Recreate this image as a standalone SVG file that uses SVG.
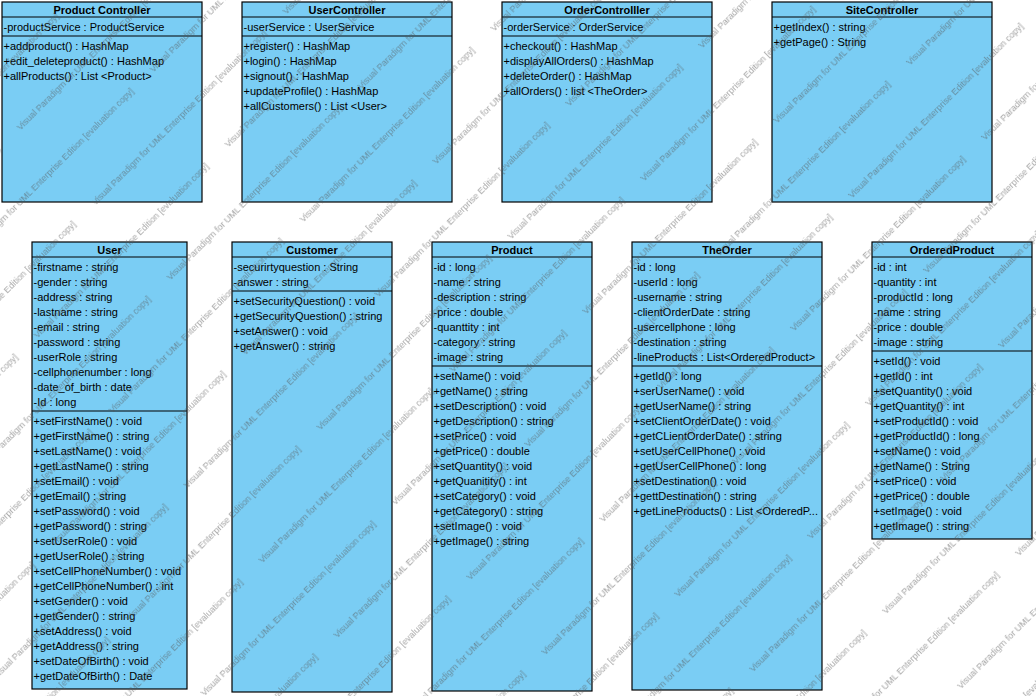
<svg xmlns="http://www.w3.org/2000/svg" width="1036" height="696" viewBox="0 0 1036 696">
<style>
.box{fill:#7acdf4;stroke:#000;stroke-width:1.2}
.ln{stroke:#000;stroke-width:1.2}
.t{font-family:"Liberation Sans",Arial,sans-serif;font-size:11px;fill:#000}
.h{font-weight:bold;text-anchor:middle}
.wm{font-family:"Liberation Sans",Arial,sans-serif;font-size:9px;fill:#555}
</style>
<defs>
<pattern id="wmp" patternUnits="userSpaceOnUse" x="0" y="0" width="270" height="106" patternTransform="rotate(-45)">
<text class="wm" x="192" y="1">Visual Paradigm for UML Enterprise Edition [evaluation copy]</text>
<text class="wm" x="-78" y="1">Visual Paradigm for UML Enterprise Edition [evaluation copy]</text>
<text class="wm" x="192" y="107">Visual Paradigm for UML Enterprise Edition [evaluation copy]</text>
<text class="wm" x="-78" y="107">Visual Paradigm for UML Enterprise Edition [evaluation copy]</text>
<text class="wm" x="57" y="54">Visual Paradigm for UML Enterprise Edition [evaluation copy]</text>
<text class="wm" x="-213" y="54">Visual Paradigm for UML Enterprise Edition [evaluation copy]</text>
</pattern>
</defs>
<rect width="1036" height="696" fill="#fff"/>
<g id="connectors"/>

<g id="ProductController">
<rect class="box" x="2" y="2" width="200" height="200"/>
<line class="ln" x1="2" y1="17" x2="202" y2="17"/>
<line class="ln" x1="2" y1="36" x2="202" y2="36"/>
<text class="t h" x="102" y="14">Product Controller</text>
<text class="t" x="3.5" y="31">-productService : ProductService</text>
<text class="t" x="3.5" y="50">+addproduct() : HashMap</text>
<text class="t" x="3.5" y="65">+edit_deleteproduct() : HashMap</text>
<text class="t" x="3.5" y="80">+allProducts() : List &lt;Product&gt;</text>
</g>

<g id="UserController">
<rect class="box" x="242" y="2" width="210" height="200"/>
<line class="ln" x1="242" y1="17" x2="452" y2="17"/>
<line class="ln" x1="242" y1="36" x2="452" y2="36"/>
<text class="t h" x="347" y="14">UserController</text>
<text class="t" x="243.5" y="31">-userService : UserService</text>
<text class="t" x="243.5" y="50">+register() : HashMap</text>
<text class="t" x="243.5" y="65">+login() : HashMap</text>
<text class="t" x="243.5" y="80">+signout() : HashMap</text>
<text class="t" x="243.5" y="95">+updateProfile() : HashMap</text>
<text class="t" x="243.5" y="110">+allCustomers() : List &lt;User&gt;</text>
</g>

<g id="OrderController">
<rect class="box" x="502" y="2" width="210" height="200"/>
<line class="ln" x1="502" y1="17" x2="712" y2="17"/>
<line class="ln" x1="502" y1="36" x2="712" y2="36"/>
<text class="t h" x="607" y="14">OrderControlller</text>
<text class="t" x="503.5" y="31">-orderService : OrderService</text>
<text class="t" x="503.5" y="50">+checkout() : HashMap</text>
<text class="t" x="503.5" y="65">+displayAllOrders() : HashMap</text>
<text class="t" x="503.5" y="80">+deleteOrder() : HashMap</text>
<text class="t" x="503.5" y="95">+allOrders() : list &lt;TheOrder&gt;</text>
</g>

<g id="SiteController">
<rect class="box" x="772" y="2" width="220" height="200"/>
<line class="ln" x1="772" y1="17" x2="992" y2="17"/>
<text class="t h" x="882" y="14">SiteController</text>
<text class="t" x="773.5" y="31">+getIndex() : string</text>
<text class="t" x="773.5" y="46">+getPage() : String</text>
</g>

<g id="User">
<rect class="box" x="32" y="242" width="155" height="447"/>
<line class="ln" x1="32" y1="257" x2="187" y2="257"/>
<line class="ln" x1="32" y1="411" x2="187" y2="411"/>
<text class="t h" x="109.5" y="254">User</text>
<text class="t" x="33.5" y="271">-firstname : string</text>
<text class="t" x="33.5" y="286">-gender : string</text>
<text class="t" x="33.5" y="301">-address : string</text>
<text class="t" x="33.5" y="316">-lastname : string</text>
<text class="t" x="33.5" y="331">-email : string</text>
<text class="t" x="33.5" y="346">-password : string</text>
<text class="t" x="33.5" y="361">-userRole : string</text>
<text class="t" x="33.5" y="376">-cellphonenumber : long</text>
<text class="t" x="33.5" y="391">-date_of_birth : date</text>
<text class="t" x="33.5" y="406">-Id : long</text>
<text class="t" x="33.5" y="425">+setFirstName() : void</text>
<text class="t" x="33.5" y="440">+getFirstName() : string</text>
<text class="t" x="33.5" y="455">+setLastName() : void</text>
<text class="t" x="33.5" y="470">+getLastName() : string</text>
<text class="t" x="33.5" y="485">+setEmail() : void</text>
<text class="t" x="33.5" y="500">+getEmail() : string</text>
<text class="t" x="33.5" y="515">+setPassword() : void</text>
<text class="t" x="33.5" y="530">+getPassword() : string</text>
<text class="t" x="33.5" y="545">+setUserRole() : void</text>
<text class="t" x="33.5" y="560">+getUserRole() : string</text>
<text class="t" x="33.5" y="575">+setCellPhoneNumber() : void</text>
<text class="t" x="33.5" y="590">+getCellPhoneNumber() : int</text>
<text class="t" x="33.5" y="605">+setGender() : void</text>
<text class="t" x="33.5" y="620">+getGender() : string</text>
<text class="t" x="33.5" y="635">+setAddress() : void</text>
<text class="t" x="33.5" y="650">+getAddress() : string</text>
<text class="t" x="33.5" y="665">+setDateOfBirth() : void</text>
<text class="t" x="33.5" y="680">+getDateOfBirth() : Date</text>
</g>

<g id="Customer">
<rect class="box" x="232" y="242" width="160" height="450"/>
<line class="ln" x1="232" y1="257" x2="392" y2="257"/>
<line class="ln" x1="232" y1="291" x2="392" y2="291"/>
<text class="t h" x="312" y="254">Customer</text>
<text class="t" x="233.5" y="271">-securirtyquestion : String</text>
<text class="t" x="233.5" y="286">-answer : string</text>
<text class="t" x="233.5" y="305">+setSecurityQuestion() : void</text>
<text class="t" x="233.5" y="320">+getSecurityQuestion() : string</text>
<text class="t" x="233.5" y="335">+setAnswer() : void</text>
<text class="t" x="233.5" y="350">+getAnswer() : string</text>
</g>

<g id="Product">
<rect class="box" x="432" y="242" width="160" height="449"/>
<line class="ln" x1="432" y1="257" x2="592" y2="257"/>
<line class="ln" x1="432" y1="366" x2="592" y2="366"/>
<text class="t h" x="512" y="254">Product</text>
<text class="t" x="433.5" y="271">-id : long</text>
<text class="t" x="433.5" y="286">-name : string</text>
<text class="t" x="433.5" y="301">-description : string</text>
<text class="t" x="433.5" y="316">-price : double</text>
<text class="t" x="433.5" y="331">-quanttity : int</text>
<text class="t" x="433.5" y="346">-category : string</text>
<text class="t" x="433.5" y="361">-image : string</text>
<text class="t" x="433.5" y="380">+setName() : void</text>
<text class="t" x="433.5" y="395">+getName() : string</text>
<text class="t" x="433.5" y="410">+setDescription() : void</text>
<text class="t" x="433.5" y="425">+getDescription() : string</text>
<text class="t" x="433.5" y="440">+setPrice() : void</text>
<text class="t" x="433.5" y="455">+getPrice() : double</text>
<text class="t" x="433.5" y="470">+setQuantity() : void</text>
<text class="t" x="433.5" y="485">+getQuanitity() : int</text>
<text class="t" x="433.5" y="500">+setCategory() : void</text>
<text class="t" x="433.5" y="515">+getCategory() : string</text>
<text class="t" x="433.5" y="530">+setImage() : void</text>
<text class="t" x="433.5" y="545">+getImage() : string</text>
</g>

<g id="TheOrder">
<rect class="box" x="632" y="242" width="190" height="448"/>
<line class="ln" x1="632" y1="257" x2="822" y2="257"/>
<line class="ln" x1="632" y1="366" x2="822" y2="366"/>
<text class="t h" x="727" y="254">TheOrder</text>
<text class="t" x="633.5" y="271">-id : long</text>
<text class="t" x="633.5" y="286">-userId : long</text>
<text class="t" x="633.5" y="301">-username : string</text>
<text class="t" x="633.5" y="316">-clientOrderDate : string</text>
<text class="t" x="633.5" y="331">-usercellphone : long</text>
<text class="t" x="633.5" y="346">-destination : string</text>
<text class="t" x="633.5" y="361">-lineProducts : List&lt;OrderedProduct&gt;</text>
<text class="t" x="633.5" y="380">+getId() : long</text>
<text class="t" x="633.5" y="395">+serUserName() : void</text>
<text class="t" x="633.5" y="410">+getUserName() : string</text>
<text class="t" x="633.5" y="425">+setClientOrderDate() : void</text>
<text class="t" x="633.5" y="440">+getCLientOrderDate() : string</text>
<text class="t" x="633.5" y="455">+setUserCellPhone() : void</text>
<text class="t" x="633.5" y="470">+getUserCellPhone() : long</text>
<text class="t" x="633.5" y="485">+setDestination() : void</text>
<text class="t" x="633.5" y="500">+gettDestination() : string</text>
<text class="t" x="633.5" y="515">+getLineProducts() : List &lt;OrderedP...</text>
</g>

<g id="OrderedProduct">
<rect class="box" x="872" y="242" width="160" height="297"/>
<line class="ln" x1="872" y1="257" x2="1032" y2="257"/>
<line class="ln" x1="872" y1="351" x2="1032" y2="351"/>
<text class="t h" x="952" y="254">OrderedProduct</text>
<text class="t" x="873.5" y="271">-id : int</text>
<text class="t" x="873.5" y="286">-quantity : int</text>
<text class="t" x="873.5" y="301">-productId : long</text>
<text class="t" x="873.5" y="316">-name : string</text>
<text class="t" x="873.5" y="331">-price : double</text>
<text class="t" x="873.5" y="346">-image : string</text>
<text class="t" x="873.5" y="365">+setId() : void</text>
<text class="t" x="873.5" y="380">+getId() : int</text>
<text class="t" x="873.5" y="395">+setQuantity() : void</text>
<text class="t" x="873.5" y="410">+getQuantity() : int</text>
<text class="t" x="873.5" y="425">+setProductId() : void</text>
<text class="t" x="873.5" y="440">+getProductId() : long</text>
<text class="t" x="873.5" y="455">+setName() : void</text>
<text class="t" x="873.5" y="470">+getName() : String</text>
<text class="t" x="873.5" y="485">+setPrice() : void</text>
<text class="t" x="873.5" y="500">+getPrice() : double</text>
<text class="t" x="873.5" y="515">+setImage() : void</text>
<text class="t" x="873.5" y="530">+getImage() : string</text>
</g>

<g id="watermark" opacity="0.55">
<rect width="1036" height="696" fill="url(#wmp)"/>
</g>
</svg>
